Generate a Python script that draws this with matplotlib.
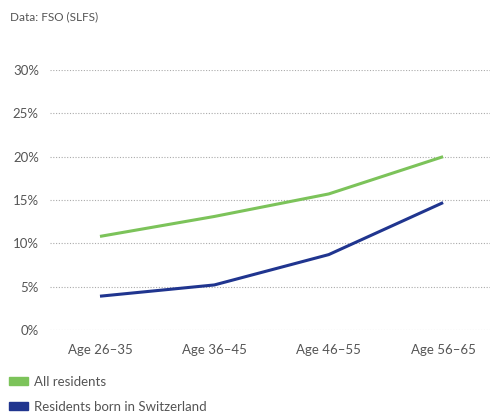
import matplotlib
matplotlib.use("Agg")
import matplotlib.pyplot as plt
from matplotlib.patches import Patch

plt.rcParams['font.family'] = ['Liberation Sans Narrow', 'Lato', 'DejaVu Sans']

# data (percent)
age_groups = ['Age 26–35', 'Age 36–45', 'Age 46–55', 'Age 56–65']
all_residents = [10.8, 13.1, 15.7, 20.0]
born_in_ch = [3.9, 5.2, 8.7, 14.7]
y_ticks = [0, 5, 10, 15, 20, 25, 30]

green = '#7cc35a'
navy = '#20358f'
text_col = '#555555'

fig = plt.figure(figsize=(4.91, 4.16), dpi=100)
ax = fig.add_axes([50 / 491, 86 / 416, 440 / 491, 260 / 416])

x = range(len(age_groups))
ax.plot(x, all_residents, color=green, lw=2.2, solid_capstyle='butt')
ax.plot(x, born_in_ch, color=navy, lw=2.2, solid_capstyle='butt')

ax.set_xlim(-0.437, 3.41)
ax.set_ylim(0, 30)
ax.set_yticks(y_ticks)
ax.set_yticklabels([f'{v}%' for v in y_ticks])
ax.set_xticks(list(x))
ax.set_xticklabels(age_groups)
ax.tick_params(axis='both', length=0, colors=text_col, labelsize=9.5)
ax.tick_params(axis='x', pad=10)
ax.tick_params(axis='y', pad=8)
ax.grid(axis='y', color='#aaaaaa', linestyle=(0, (1, 1.5)), lw=0.8)
ax.set_axisbelow(True)
for s in ax.spines.values():
    s.set_visible(False)

fig.text(10 / 491, 1 - 17 / 416, 'Data: FSO (SLFS)', fontsize=8.5, color=text_col,
         va='center', ha='left')

handles = [Patch(color=green, label='All residents'),
           Patch(color=navy, label='Residents born in Switzerland')]
fig.legend(handles=handles, loc='lower left', bbox_to_anchor=(0.0, -0.015),
           frameon=False, fontsize=9.5, handlelength=1.4, handleheight=0.55,
           labelcolor=text_col, borderaxespad=0.3, labelspacing=1.0,
           handletextpad=0.5)

fig.savefig('out.png', dpi=100, facecolor='white')
